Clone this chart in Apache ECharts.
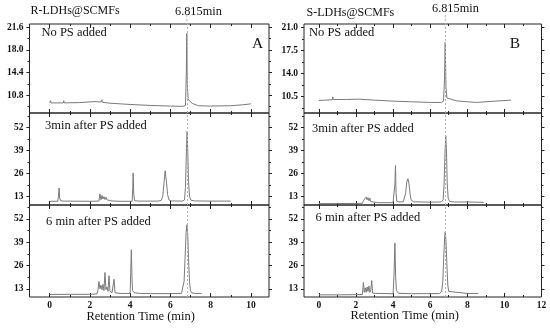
<!DOCTYPE html>
<html><head><meta charset="utf-8">
<script src="https://cdn.jsdelivr.net/npm/echarts@6/dist/echarts.min.js"></script>
<style>html,body{margin:0;padding:0;background:#fff}#c{width:550px;height:329px}</style>
</head><body><div id="c"></div>
<script>
// ---- tick labels ----
const timeTicksA = [0, 2, 4, 6, 8, 10];
const timeMinorA = [1, 3, 5, 7, 9];
const timeTicksB = [0, 2, 4, 6, 8, 10, 12];
const timeMinorB = [1, 3, 5, 7, 9, 11];
const yTicksA1 = [10.8, 14.4, 18.0, 21.6];
const yMinorA1 = [9.0, 12.6, 16.2, 19.8];
const yTicksB1 = [10.5, 14.0, 17.5, 21.0];
const yMinorB1 = [8.75, 12.25, 15.75, 19.25];
const yTicks23 = [13, 26, 39, 52];
const yMinor23 = [19.5, 32.5, 45.5, 58.5];
const markTime = 6.815;

// ---- series values [retention time (min), signal] ----
const A_noPS = [[0,9.6],[0.03,9.6],[0.05,9.95],[0.07,9.6],[0.68,9.6],[0.7,9.95],[0.72,9.6],[1.5,9.65],[2.2,9.8],[2.55,9.75],[2.6,10.1],[2.62,9.7],[3.0,9.55],[4.0,9.35],[5.0,9.2],[6.0,9.1],[6.6,9.05],[6.75,9.2],[6.79,14],[6.815,20.6],[6.84,12.5],[6.88,10.3],[6.95,9.9],[7.1,9.5],[7.4,9.15],[8.0,9.1],[9.0,9.15],[9.6,9.3],[10.0,9.45]];
const A_3min = [[0,10.2],[0.4,10.2],[0.44,13],[0.47,17.7],[0.5,12],[0.55,10.5],[0.7,10.3],[2.0,10.2],[2.45,10.3],[2.5,14.4],[2.55,11],[2.6,13.5],[2.65,11.5],[2.7,12.8],[2.75,11.2],[2.8,12.5],[2.85,11],[2.9,12],[2.95,10.8],[3.0,11.5],[3.05,10.4],[3.5,10.2],[4.1,10.2],[4.13,18],[4.15,26.2],[4.18,14],[4.22,10.6],[4.4,10.3],[5.4,10.3],[5.55,10.8],[5.62,13],[5.68,20],[5.74,27.5],[5.8,22],[5.86,14],[5.93,11],[6.05,10.4],[6.6,10.3],[6.7,11],[6.75,18],[6.8,40],[6.83,49.7],[6.86,40],[6.9,22],[6.95,13],[7.02,10.8],[7.2,10.4],[8.0,10.3],[9.0,10.3]];
const A_6min = [[0,9.8],[0.02,10.6],[0.04,9.9],[1.0,9.9],[1.95,9.9],[2.0,10.6],[2.02,10.1],[2.35,10.1],[2.4,12],[2.45,17.1],[2.5,13],[2.55,15],[2.6,12.5],[2.65,15.5],[2.7,12],[2.75,22.1],[2.8,12.5],[2.85,14],[2.9,11.5],[2.95,20.3],[3.0,11.5],[3.1,10.8],[3.2,18.3],[3.25,10.8],[3.5,10.4],[4.0,10.4],[4.03,22],[4.06,34.8],[4.09,20],[4.12,12],[4.2,10.8],[4.5,10.4],[5.0,10.3],[6.0,10.3],[6.55,10.4],[6.62,11.5],[6.68,17],[6.73,30],[6.78,44],[6.82,48.8],[6.86,44],[6.9,30],[6.95,17],[7.0,12],[7.07,10.7],[7.2,10.4],[7.55,10.4]];
const B_noPS = [[0,9.9],[0.3,9.95],[0.72,10.0],[0.75,10.45],[0.78,10.05],[1.5,10.05],[2.15,10.1],[2.2,10.25],[2.25,10.05],[3.0,9.95],[4.0,9.8],[5.0,9.7],[6.0,9.6],[6.6,9.6],[6.72,9.8],[6.77,13],[6.81,18.7],[6.85,12],[6.9,10.3],[7.0,10.0],[7.4,9.85],[7.45,10.05],[7.5,9.8],[8.0,9.7],[8.5,9.6],[9.5,9.8],[10.35,9.95]];
const B_3min = [[0,8.9],[1.0,8.9],[2.0,9.0],[2.35,9.1],[2.4,10.5],[2.45,11.5],[2.5,10.5],[2.55,12.6],[2.6,11],[2.65,12.3],[2.7,10.5],[2.75,12],[2.8,10],[2.85,11],[2.9,9.6],[3.2,9.4],[4.0,9.4],[4.07,9.6],[4.1,20],[4.13,30.4],[4.16,15],[4.2,10.2],[4.35,9.8],[4.55,9.9],[4.62,11],[4.68,15],[4.74,21],[4.8,23],[4.86,20],[4.92,14],[4.98,10.8],[5.1,9.9],[6.0,9.7],[6.6,9.8],[6.7,11],[6.75,20],[6.8,38],[6.84,47.3],[6.88,38],[6.92,20],[6.97,12],[7.05,10.2],[7.3,9.8],[8.0,9.8],[8.9,9.6]];
const B_6min = [[0,9.6],[1.0,9.6],[1.95,9.7],[2.0,10.6],[2.03,9.8],[2.35,9.8],[2.4,16.5],[2.45,11],[2.5,13.5],[2.55,11],[2.6,14],[2.65,11.5],[2.7,14.5],[2.75,11],[2.8,12.5],[2.85,17.6],[2.9,10.5],[3.0,10.2],[4.0,10.2],[4.05,20],[4.1,38.6],[4.14,20],[4.18,12],[4.3,10.5],[5.0,10.2],[5.6,10.3],[5.7,10.9],[5.8,10.3],[6.5,10.3],[6.62,11.5],[6.68,17],[6.73,30],[6.78,42],[6.81,44.9],[6.85,40],[6.9,27],[6.95,15],[7.0,11.5],[7.1,10.4],[8.0,10.4],[8.6,10.4]];

// ---- layout ----
const FONT = '"Liberation Serif","Times New Roman",serif';
const colA = {left: 29.5, width: 239.5, xmin: -1, xmax: 10.9, maj: timeTicksA, min: timeMinorA};
const colB = {left: 304, width: 237.5, xmin: -0.8, xmax: 12, maj: timeTicksB, min: timeMinorB};
const rows = [{top: 24, height: 89}, {top: 113, height: 92}, {top: 205, height: 92}];

const panels = [
  {col: colA, row: 0, data: A_noPS, ymin: 8, ymax: 22.1, ymaj: yTicksA1, ymnr: yMinorA1, dec: 1},
  {col: colA, row: 1, data: A_3min, ymin: 8.1, ymax: 60.1, ymaj: yTicks23, ymnr: yMinor23, dec: 0},
  {col: colA, row: 2, data: A_6min, ymin: 8.4, ymax: 59.8, ymaj: yTicks23, ymnr: yMinor23, dec: 0},
  {col: colB, row: 0, data: B_noPS, ymin: 8, ymax: 21.5, ymaj: yTicksB1, ymnr: yMinorB1, dec: 1},
  {col: colB, row: 1, data: B_3min, ymin: 8.1, ymax: 60.1, ymaj: yTicks23, ymnr: yMinor23, dec: 0},
  {col: colB, row: 2, data: B_6min, ymin: 8.4, ymax: 59.8, ymaj: yTicks23, ymnr: yMinor23, dec: 0}
];

const grid = [], xAxis = [], yAxis = [], series = [];
panels.forEach((p, gi) => {
  grid.push({left: p.col.left, width: p.col.width, top: rows[p.row].top, height: rows[p.row].height,
    show: true, borderColor: '#222', borderWidth: 1, backgroundColor: 'transparent'});
  const xi = xAxis.length, yi = yAxis.length;
  ['bottom', 'top'].forEach(pos => {
    [true, false].forEach(major => {
      const vals = major ? p.col.maj : p.col.min;
      xAxis.push({type: 'value', gridIndex: gi, position: pos, min: p.col.xmin, max: p.col.xmax,
        axisLine: {show: false, onZero: false}, splitLine: {show: false},
        axisTick: {show: true, inside: true, length: major ? 4 : 2, customValues: vals, lineStyle: {color: '#222', width: 1}},
        axisLabel: {show: major && pos === 'bottom' && p.row === 2, customValues: vals, margin: 4,
          fontFamily: FONT, fontSize: 9.5, fontWeight: 'bold', color: '#111'}});
    });
  });
  ['left', 'right'].forEach(pos => {
    [true, false].forEach(major => {
      const vals = major ? p.ymaj : p.ymnr;
      yAxis.push({type: 'value', gridIndex: gi, position: pos, min: p.ymin, max: p.ymax,
        axisLine: {show: false, onZero: false}, splitLine: {show: false},
        axisTick: {show: true, inside: false, length: major ? 3 : 2, customValues: vals, lineStyle: {color: '#222', width: 1}},
        axisLabel: {show: major && pos === 'left', customValues: vals, margin: 6,
          formatter: v => v.toFixed(p.dec),
          fontFamily: FONT, fontSize: 9.5, fontWeight: 'bold', color: '#111'}});
    });
  });
  series.push({type: 'line', xAxisIndex: xi, yAxisIndex: yi, data: p.data, showSymbol: false, symbol: 'none',
    lineStyle: {color: '#7a7a7a', width: 1}, silent: true, animation: false,
    markLine: {silent: true, symbol: ['none', 'none'], label: {show: false}, animation: false,
      lineStyle: {color: '#b0b0b0', type: [2, 2], width: 1}, data: [{xAxis: markTime}]}});
});

const txt = (x, y, s, size, align) => ({type: 'text', x, y, silent: true,
  style: {text: s, fontFamily: FONT, fontSize: size, fill: '#111', align: align || 'left', verticalAlign: 'middle'}});

const graphic = [
  txt(30.5, 11, 'R-LDHs@SCMFs', 12),
  txt(175, 12, '6.815min', 12.3),
  txt(306.5, 12.5, 'S-LDHs@SCMFs', 12),
  txt(432, 8.5, '6.815min', 12.3),
  txt(41.5, 33, 'No PS added', 12.5),
  txt(45, 125.7, '3min after PS added', 12.5),
  txt(46, 222, '6 min after PS added', 12.5),
  txt(309, 33, 'No PS added', 12.5),
  txt(312, 128.7, '3min after PS added', 12.5),
  txt(315.5, 217.7, '6 min after PS added', 12.5),
  txt(257.5, 43.5, 'A', 15.5, 'center'),
  txt(515, 43.5, 'B', 15.5, 'center'),
  txt(140.7, 317, 'Retention Time (min)', 12.5, 'center'),
  txt(404.7, 316, 'Retention Time (min)', 12.5, 'center')
];

const chart = echarts.init(document.getElementById('c'), null, {renderer: 'canvas'});
chart.setOption({backgroundColor: '#fff', animation: false, grid, xAxis, yAxis, series, graphic});

// dotted reference line continues above the top panels
const ext = [];
[0, 12].forEach(ax => {
  const px = chart.convertToPixel({xAxisIndex: ax}, markTime);
  ext.push({type: 'line', silent: true, shape: {x1: px, y1: 15, x2: px, y2: rows[0].top},
    style: {stroke: '#b0b0b0', lineWidth: 1, lineDash: [2, 2]}});
});
chart.setOption({graphic: graphic.concat(ext)});
</script></body></html>
